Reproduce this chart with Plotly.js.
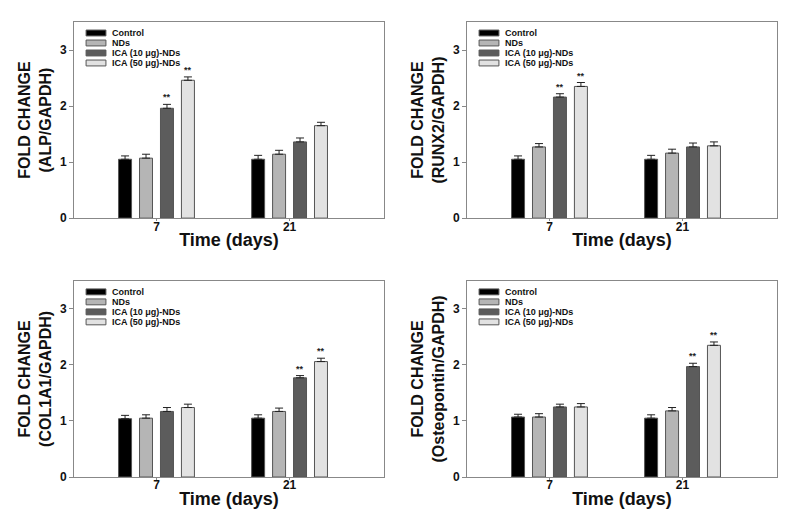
<!DOCTYPE html>
<html>
<head>
<meta charset="utf-8">
<script src="https://cdn.plot.ly/plotly-3.0.1.min.js"></script>
<style>html,body{margin:0;padding:0;background:#fff;}#chart{width:796px;height:518px;}</style>
</head>
<body>
<div id="chart"></div>
<script>
// ---- data ----
var timeLabels = ['7', '21'];
var seriesNames = ['Control', 'NDs', 'ICA (10 \u03bcg)-NDs', 'ICA (50 \u03bcg)-NDs'];
var seriesColors = ['#000000', '#b5b5b5', '#5c5c5c', '#e2e2e2'];
var panelGenes = ['ALP', 'RUNX2', 'COL1A1', 'Osteopontin'];

// values per panel: [series][time]
var alpVals   = [[1.05, 1.05], [1.07, 1.14], [1.96, 1.36], [2.46, 1.65]];
var alpErr    = [[0.06, 0.07], [0.07, 0.07], [0.07, 0.07], [0.06, 0.06]];
var alpSig    = [[0, 0], [0, 0], [1, 0], [1, 0]];

var runx2Vals = [[1.05, 1.05], [1.27, 1.16], [2.16, 1.27], [2.35, 1.29]];
var runx2Err  = [[0.06, 0.07], [0.06, 0.07], [0.06, 0.07], [0.07, 0.07]];
var runx2Sig  = [[0, 0], [0, 0], [1, 0], [1, 0]];

var col1a1Vals = [[1.04, 1.05], [1.05, 1.17], [1.17, 1.77], [1.24, 2.06]];
var col1a1Err  = [[0.06, 0.06], [0.06, 0.06], [0.07, 0.04], [0.06, 0.06]];
var col1a1Sig  = [[0, 0], [0, 0], [0, 1], [0, 1]];

var opnVals = [[1.07, 1.05], [1.07, 1.18], [1.25, 1.97], [1.25, 2.35]];
var opnErr  = [[0.05, 0.06], [0.06, 0.06], [0.05, 0.06], [0.06, 0.06]];
var opnSig  = [[0, 0], [0, 0], [0, 1], [0, 1]];

var panelVals = [alpVals, runx2Vals, col1a1Vals, opnVals];
var panelErrs = [alpErr, runx2Err, col1a1Err, opnErr];
var panelSigs = [alpSig, runx2Sig, col1a1Sig, opnSig];

// ---- layout constants ----
var bargap = 0.37;
var nSeries = seriesNames.length;
var slot = (1 - bargap) / nSeries;
var xDomains = [[0, 0.441], [0.559, 1.0], [0, 0.441], [0.559, 1.0]];
var yDomains = [[0.569, 1.0], [0.569, 1.0], [0, 0.431], [0, 0.431]];
var xIdx = timeLabels.map(function (_, i) { return i; });
var FONT = 'Liberation Sans, Arial, sans-serif';

var traces = [];
var annotations = [];
var shapes = [];
var layout = {
  width: 796, height: 518,
  margin: {l: 74, r: 19, t: 22, b: 41},
  paper_bgcolor: '#ffffff', plot_bgcolor: '#ffffff',
  barmode: 'group', bargap: bargap, bargroupgap: 0.38,
  showlegend: false,
  font: {family: FONT, color: '#111'}
};

for (var p = 0; p < 4; p++) {
  var sfx = p === 0 ? '' : String(p + 1);
  var xa = 'x' + sfx, ya = 'y' + sfx;
  for (var s = 0; s < nSeries; s++) {
    traces.push({
      type: 'bar', x: xIdx, y: panelVals[p][s], name: seriesNames[s],
      xaxis: xa, yaxis: ya, offsetgroup: String(s),
      marker: {color: seriesColors[s], line: {color: '#555', width: 1}},
      error_y: {type: 'data', array: panelErrs[p][s], symmetric: false, arrayminus: [0, 0],
                color: '#222', thickness: 1, width: 4},
      hoverinfo: 'skip'
    });
    for (var t = 0; t < xIdx.length; t++) {
      if (panelSigs[p][s][t]) {
        annotations.push({
          xref: xa, yref: ya,
          x: xIdx[t] + (s - (nSeries - 1) / 2) * slot,
          y: panelVals[p][s][t] + panelErrs[p][s][t],
          text: '**', showarrow: false, yanchor: 'bottom', yshift: 0,
          font: {family: FONT, size: 9, color: '#222', weight: 'bold'}
        });
      }
    }
  }
  // legend drawn inside each panel
  for (var s2 = 0; s2 < nSeries; s2++) {
    var yc = 0.944 - s2 * 0.051;
    shapes.push({
      type: 'rect', xref: xa + ' domain', yref: ya + ' domain',
      x0: 0.039, x1: 0.103, y0: yc - 0.015, y1: yc + 0.015,
      fillcolor: seriesColors[s2], line: {color: '#555', width: 1}
    });
    annotations.push({
      xref: xa + ' domain', yref: ya + ' domain', x: 0.117, y: yc,
      xanchor: 'left', yanchor: 'middle', showarrow: false,
      text: '<b>' + seriesNames[s2] + '</b>',
      font: {family: FONT, size: 9, color: '#111'}
    });
  }
  layout['xaxis' + sfx] = {
    domain: xDomains[p], anchor: ya, range: [-0.62, 1.71],
    tickmode: 'array', tickvals: xIdx, ticktext: timeLabels,
    ticks: 'outside', ticklen: 2, tickcolor: '#888', tickwidth: 1,
    ticklabelstandoff: -5,
    showline: true, linecolor: '#888', linewidth: 1, mirror: true,
    showgrid: false, zeroline: false,
    tickfont: {family: FONT, size: 12, color: '#111', weight: 'bold'},
    title: {text: 'Time (days)', standoff: 0,
            font: {family: FONT, size: 18, color: '#111', weight: 'bold'}}
  };
  layout['yaxis' + sfx] = {
    domain: yDomains[p], anchor: xa, range: [0, 3.5],
    tickmode: 'array', tickvals: [0, 1, 2, 3],
    ticks: 'outside', ticklen: 4, tickcolor: '#888', tickwidth: 1,
    showline: true, linecolor: '#888', linewidth: 1, mirror: true,
    showgrid: false, zeroline: false,
    tickfont: {family: FONT, size: 12, color: '#111', weight: 'bold'},
    title: {text: 'FOLD CHANGE<br>(' + panelGenes[p] + '/GAPDH)', standoff: 4,
            font: {family: FONT, size: 16, color: '#111', weight: 'bold'}}
  };
}
layout.annotations = annotations;
layout.shapes = shapes;

Plotly.newPlot('chart', traces, layout, {staticPlot: true, displayModeBar: false});
</script>
</body>
</html>
